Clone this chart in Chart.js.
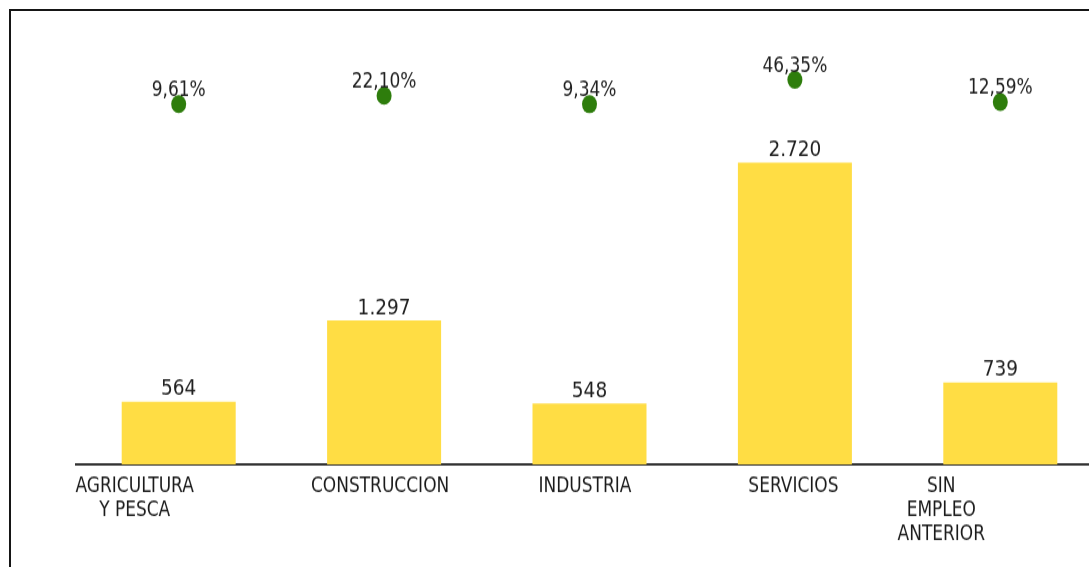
<!DOCTYPE html>
<html>
<head>
<meta charset="utf-8">
<script src="https://cdn.jsdelivr.net/npm/chart.js@4.4.1/dist/chart.umd.min.js"></script>
<style>
  html, body { margin: 0; padding: 0; background: #fff; overflow: hidden; width: 1089px; height: 567px; }
  #frame { position: absolute; left: 9px; top: 9px; width: 1200px; height: 700px;
           border-left: 2px solid #161616; border-top: 2px solid #161616; box-sizing: border-box; }
  #wrap { position: absolute; left: 0; top: 0; width: 1125px; height: 473px;
          transform: scaleY(1.2); transform-origin: 0 0; }
</style>
</head>
<body>
<div id="frame"></div>
<div id="wrap"><canvas id="c" width="1125" height="473"></canvas></div>
<script>
// ---- data ----
const categories = [
  ['AGRICULTURA', 'Y PESCA'],
  ['CONSTRUCCION'],
  ['INDUSTRIA'],
  ['SERVICIOS'],
  ['SIN', 'EMPLEO', 'ANTERIOR']
];
const counts = [564, 1297, 548, 2720, 739];
const percents = [9.61, 22.10, 9.34, 46.35, 12.59];

// ---- styles ----
const labelShift = [-44, -4, -4.5, -1.5, -59];
const FONT = "'DejaVu Sans', sans-serif";

function fmtInt(v) { return String(v).replace(/\B(?=(\d{3})+(?!\d))/g, '.'); }
function fmtPct(v) { return v.toFixed(2).replace('.', ',') + '%'; }

const labelsPlugin = {
  id: 'labelsPlugin',
  afterDatasetsDraw(chart) {
    const ctx = chart.ctx;
    ctx.save();
    ctx.fillStyle = '#202020';
    ctx.textAlign = 'center';
    ctx.textBaseline = 'alphabetic';
    // bar value labels
    const barMeta = chart.getDatasetMeta(1);
    ctx.font = '18.5px ' + FONT;
    barMeta.data.forEach((el, i) => {
      ctx.fillText(fmtInt(counts[i]), el.x, el.y - 5.5);
    });
    // percent labels
    const ptMeta = chart.getDatasetMeta(0);
    ctx.font = '17px ' + FONT;
    ptMeta.data.forEach((el, i) => {
      ctx.fillText(fmtPct(percents[i]), el.x, el.y - 6.7);
    });
    // category labels
    const xs = chart.scales.x;
    ctx.fillStyle = '#1a1a1a';
    ctx.font = '17px ' + FONT;
    categories.forEach((lines, i) => {
      const cx = xs.getPixelForValue(i) + labelShift[i];
      lines.forEach((t, j) => {
        ctx.fillText(t, cx, chart.chartArea.bottom + 22.6 + j * 20.4);
      });
    });
    ctx.restore();
  }
};

new Chart(document.getElementById('c'), {
  data: {
    labels: categories.map(l => l.join(' ')),
    datasets: [
      {
        type: 'line',
        data: percents,
        yAxisID: 'y2',
        showLine: false,
        pointRadius: 7.5,
        pointHoverRadius: 7.5,
        pointBackgroundColor: '#2E7D0C',
        pointBorderWidth: 0,
        order: 0
      },
      {
        type: 'bar',
        data: counts,
        yAxisID: 'y',
        backgroundColor: '#FFDD44',
        borderWidth: 0,
        barPercentage: 0.555,
        categoryPercentage: 1,
        order: 1
      }
    ]
  },
  options: {
    responsive: false,
    animation: false,
    devicePixelRatio: 1,
    layout: { padding: { top: 17, left: 76, right: 22, bottom: 0 } },
    plugins: { legend: { display: false }, tooltip: { enabled: false } },
    scales: {
      x: {
        display: true,
        offset: true,
        grid: { display: false },
        ticks: { display: false },
        border: { display: true, color: '#333333', width: 2 },
        afterFit: (s) => { s.height = 86; }
      },
      y: { display: false, min: 0, max: 4000 },
      y2: { display: false, min: -535, max: 136 }
    }
  },
  plugins: [labelsPlugin]
});
</script>
</body>
</html>
